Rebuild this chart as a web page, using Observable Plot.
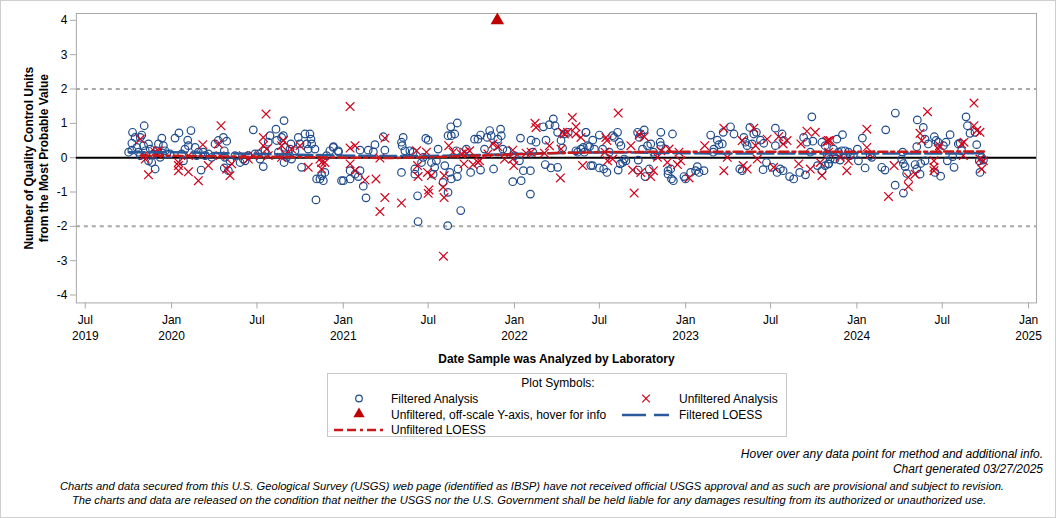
<!DOCTYPE html>
<html>
<head>
<meta charset="utf-8">
<script src="https://cdn.jsdelivr.net/npm/d3@7"></script>
<script src="https://cdn.jsdelivr.net/npm/@observablehq/plot@0.6"></script>
<style>
  html, body { margin: 0; padding: 0; background: #fff; }
  #page { position: relative; width: 1054px; height: 516px; border: 1px solid #cfcfcf; font-family: "Liberation Sans", Arial, sans-serif; color: #000; overflow: hidden; }
  #chart { position: absolute; left: 0; top: 0; }
  #legend { position: absolute; left: 326px; top: 372px; }
  .foot { position: absolute; font-style: italic; font-size: 12px; white-space: nowrap; }
</style>
</head>
<body>
<div id="page">
  <div id="chart"></div>
  <div id="legend"></div>
  <div class="foot" style="right:12px; top:446px;">Hover over any data point for method and additional info.</div>
  <div class="foot" style="right:12px; top:461px;">Chart generated 03/27/2025</div>
  <div class="foot" style="left:0; width:1062px; text-align:center; top:479px; font-size:11.2px;">Charts and data secured from this U.S. Geological Survey (USGS) web page (identified as IBSP) have not received official USGS approval and as such are provisional and subject to revision.</div>
  <div class="foot" style="left:0; width:1056px; text-align:center; top:493px; font-size:11.2px;">The charts and data are released on the condition that neither the USGS nor the U.S. Government shall be held liable for any damages resulting from its authorized or unauthorized use.</div>
</div>
<script>
// ---- Data (decimal year, units from most probable value) ----
const filteredPoints = [
[2019.749,0.16],[2019.768,0.22],[2019.772,0.74],[2019.787,0.59],[2019.768,0.42],[2019.817,0.59],[2019.826,0.66],[2019.840,0.93],
[2019.797,0.30],[2019.807,0.16],[2019.817,0.06],[2019.836,0.35],[2019.846,0.20],[2019.865,0.40],[2019.875,0.25],[2019.865,-0.09],
[2019.884,-0.14],[2019.904,-0.33],[2019.894,0.11],[2019.914,0.20],[2019.923,0.40],[2019.943,0.57],[2019.952,0.35],[2019.933,0.01],
[2019.962,0.20],[2019.972,0.11],[2019.991,0.11],[2020.020,0.57],[2020.043,0.72],[2020.059,0.11],[2020.069,-0.09],[2020.094,0.51],
[2020.098,0.35],[2020.113,0.79],[2020.078,0.25],[2020.137,0.30],[2020.146,0.06],[2020.156,0.16],[2020.172,-0.36],[2020.185,0.16],
[2020.195,0.06],[2020.214,0.11],[2020.234,0.01],[2020.253,0.40],[2020.272,0.50],[2020.302,0.59],[2020.307,0.20],[2020.321,0.48],
[2020.307,-0.30],[2020.331,-0.38],[2020.311,0.01],[2020.340,-0.09],[2020.369,0.06],[2020.399,-0.14],[2020.418,-0.04],[2020.428,-0.09],
[2020.447,0.06],[2020.476,0.81],[2020.486,0.11],[2020.505,0.11],[2020.515,-0.04],[2020.534,-0.26],[2020.544,0.20],[2020.563,0.45],
[2020.573,0.64],[2020.608,0.83],[2020.612,0.50],[2020.622,0.16],[2020.641,0.59],[2020.651,0.64],[2020.655,1.08],[2020.661,0.30],
[2020.670,0.01],[2020.655,-0.14],[2020.690,0.25],[2020.695,0.40],[2020.699,-0.04],[2020.719,0.20],[2020.738,0.59],[2020.748,0.40],
[2020.757,-0.28],[2020.777,0.69],[2020.787,0.40],[2020.796,0.25],[2020.806,0.69],[2020.812,0.54],[2020.816,0.40],[2020.835,0.25],
[2020.845,-0.62],[2020.864,-0.62],[2020.874,-0.52],[2020.884,-0.67],[2020.893,-0.43],[2020.841,-1.23],[2020.903,0.06],[2020.922,0.20],
[2020.942,0.30],[2020.971,0.20],[2020.990,-0.67],
[2020.943,0.32],[2020.972,0.17],[2021.001,-0.67],[2021.040,-0.38],[2021.040,-0.62],[2021.069,-0.48],[2021.088,-0.55],[2021.098,-0.38],
[2021.117,-0.83],[2021.133,-1.17],[2021.098,0.22],[2021.146,0.22],[2021.176,0.17],[2021.185,0.38],[2021.234,0.61],[2021.243,0.22],
[2021.350,0.59],[2021.340,0.45],[2021.344,0.35],[2021.340,-0.43],[2021.360,0.20],[2021.389,0.20],[2021.408,0.16],[2021.434,-1.11],
[2021.418,-0.33],[2021.418,-0.48],[2021.437,-1.86],[2021.457,-0.14],[2021.467,0.01],[2021.482,0.56],[2021.496,0.51],[2021.515,-0.14],
[2021.534,-0.28],[2021.525,-0.48],[2021.554,0.25],[2021.544,-0.09],[2021.583,-0.72],[2021.593,-0.23],[2021.612,0.64],[2021.612,-1.01],
[2021.610,-1.98],[2021.628,0.90],[2021.631,0.64],[2021.651,0.69],[2021.666,1.01],[2021.622,-0.43],[2021.631,-0.62],[2021.661,0.20],
[2021.670,-0.33],[2021.666,-0.55],[2021.686,-1.54],[2021.719,0.25],[2021.744,-0.43],[2021.767,0.54],[2021.787,0.54],[2021.802,0.66],
[2021.802,-0.36],[2021.825,0.25],[2021.841,0.59],[2021.855,0.79],[2021.864,0.64],[2021.878,-0.33],[2021.884,0.35],[2021.903,0.54],
[2021.919,0.83],[2021.923,0.64],[2021.932,0.25],[2021.957,0.20],[2021.990,-0.70],[2022.000,0.06],[2022.029,-0.09],[2022.035,0.57],
[2022.039,-0.67],[2022.052,-0.38],[2022.093,-0.38],[2022.093,-1.06],[2022.097,0.51],[2022.107,0.16],[2022.126,0.45],[2022.169,0.90],
[2022.180,-0.20],[2022.184,0.51],[2022.204,0.96],[2022.213,-0.30],[2022.227,1.13],[2022.237,0.93],[2022.252,-0.28],[2022.252,0.74],
[2022.272,0.50],[2022.281,0.28],[2022.291,0.69],[2022.314,0.74],[2022.359,0.20],[2022.369,0.16],[2022.388,0.25],[2022.402,0.30],
[2022.417,0.74],[2022.427,0.35],[2022.446,-0.23],
[2022.418,0.74],[2022.408,0.16],[2022.438,0.32],[2022.457,0.51],[2022.457,-0.23],[2022.467,0.25],[2022.496,0.66],[2022.496,-0.30],
[2022.521,-0.33],[2022.540,-0.43],[2022.515,0.25],[2022.554,0.16],[2022.573,0.64],[2022.583,0.59],[2022.602,0.74],[2022.606,-0.36],
[2022.612,0.45],[2022.618,-0.18],[2022.632,-0.14],[2022.622,0.35],[2022.641,-0.04],[2022.651,-0.09],[2022.719,0.74],[2022.723,-0.36],
[2022.729,0.59],[2022.723,-0.07],[2022.738,0.69],[2022.748,0.25],[2022.758,0.81],[2022.763,-0.55],[2022.777,0.35],[2022.787,-0.33],
[2022.796,0.40],[2022.812,0.16],[2022.820,0.06],[2022.855,0.74],[2022.851,0.45],[2022.855,0.35],[2022.884,0.25],[2022.897,-0.38],
[2022.897,-0.48],[2022.923,0.69],[2022.917,-0.62],[2022.928,-0.67],[2022.913,-0.33],[2022.990,-0.55],[2022.999,-0.62],[2023.029,-0.43],
[2023.058,-0.38],[2023.068,-0.26],[2023.078,-0.43],[2023.107,-0.38],[2023.146,0.66],[2023.161,0.16],[2023.165,0.25],[2023.185,0.51],
[2023.194,0.38],[2023.214,0.40],[2023.219,0.74],[2023.262,0.90],[2023.282,0.69],[2023.316,-0.33],[2023.330,-0.38],[2023.340,0.59],
[2023.349,0.45],[2023.359,0.35],[2023.375,0.88],[2023.388,0.40],[2023.398,0.69],[2023.413,0.74],[2023.437,0.51],[2023.452,-0.35],
[2023.456,0.42],[2023.472,-0.14],[2023.505,-0.28],[2023.524,0.86],[2023.524,0.35],[2023.534,-0.43],[2023.553,-0.33],[2023.563,0.69],
[2023.569,-0.38],[2023.573,0.50],[2023.607,-0.55],[2023.631,-0.62],[2023.666,-0.43],[2023.689,0.59],[2023.700,-0.50],[2023.708,0.45],
[2023.728,0.16],[2023.737,1.19],[2023.743,0.48],[2023.770,-0.23],[2023.796,0.45],[2023.815,0.35],[2023.825,0.11],[2023.834,-0.18],
[2023.796,-0.38],[2023.815,-0.23],[2023.835,-0.18],[2023.844,-0.04],[2023.864,0.25],[2023.883,0.54],[2023.873,-0.04],[2023.893,0.16],
[2023.902,-0.07],[2023.912,0.20],[2023.916,0.67],[2023.931,0.20],[2023.951,0.16],[2023.961,0.06],[2023.980,0.09],[2024.003,0.25],
[2024.009,-0.09],[2024.032,0.57],[2024.048,-0.30],[2024.077,0.06],[2024.087,0.01],[2024.145,-0.28],[2024.164,-0.36],[2024.168,0.81],
[2024.224,1.30],[2024.223,-0.80],[2024.267,0.16],[2024.261,-0.04],[2024.271,-0.17],[2024.271,-1.03],[2024.281,-0.26],[2024.290,-0.46],
[2024.339,-0.20],[2024.349,0.32],[2024.352,1.10],[2024.349,-0.33],[2024.368,-0.48],[2024.372,-0.17],[2024.387,0.88],[2024.397,0.54],
[2024.397,-0.09],[2024.416,0.40],[2024.451,0.61],[2024.461,0.50],[2024.455,-0.43],[2024.474,0.45],[2024.488,-0.54],[2024.504,0.35],
[2024.519,0.45],[2024.527,-0.09],[2024.543,0.67],[2024.566,-0.28],[2024.558,0.03],[2024.591,0.40],[2024.601,0.42],[2024.610,0.20],
[2024.636,1.19],[2024.644,0.93],[2024.659,0.71],[2024.698,0.38],[2024.713,-0.09],[2024.717,-0.43],[2024.727,0.01],[2024.737,-0.07],
[2024.688,0.74]
];
const unfilteredPoints = [
[2019.817,0.54],[2019.836,0.06],[2019.846,-0.04],[2019.865,-0.50],[2019.904,0.16],[2019.914,0.11],[2019.923,0.20],[2020.040,-0.14],
[2020.040,-0.23],[2020.040,-0.38],[2020.098,0.06],[2020.098,-0.41],[2020.156,-0.67],[2020.182,0.38],[2020.214,-0.23],[2020.272,0.40],
[2020.288,0.93],[2020.282,0.06],[2020.321,-0.33],[2020.340,-0.52],[2020.350,-0.18],[2020.418,0.06],[2020.447,-0.04],[2020.476,0.06],
[2020.534,0.59],[2020.534,0.35],[2020.550,1.27],[2020.554,0.25],[2020.563,0.06],[2020.641,0.35],[2020.651,0.50],[2020.641,0.01],
[2020.661,0.11],[2020.699,0.25],[2020.748,0.35],[2020.796,-0.28],[2020.864,-0.04],[2020.874,-0.14],[2020.893,-0.14],[2020.874,-0.33],
[2021.040,1.49],[2021.040,0.28],[2021.069,0.35],[2021.040,-0.18],[2021.069,-0.38],[2021.127,-0.65],[2021.191,-0.62],[2021.214,-1.57],
[2021.214,-0.01],[2021.243,-1.16],[2021.243,0.57],[2021.340,-1.32],[2021.428,0.20],[2021.434,-0.23],[2021.437,-0.55],[2021.486,0.16],
[2021.492,-0.43],[2021.500,-0.94],[2021.496,-1.04],[2021.515,-0.52],[2021.583,-0.86],[2021.589,-1.16],[2021.589,-0.52],[2021.585,-2.87],
[2021.616,0.35],[2021.641,0.16],[2021.690,0.11],[2021.705,-0.18],[2021.709,0.16],[2021.738,0.20],[2021.758,-0.20],[2021.787,-0.14],
[2021.796,-0.09],[2021.845,0.11],[2021.874,0.40],[2021.903,0.32],[2021.942,-0.04],[2021.990,0.22],[2021.990,-0.04],[2021.996,-0.23],
[2022.068,0.13],[2022.097,0.16],[2022.120,1.00],[2022.126,0.88],[2022.175,0.13],[2022.204,0.35],[2022.268,-0.59],[2022.272,0.25],
[2022.281,0.74],[2022.291,0.69],[2022.310,0.74],[2022.338,1.17],[2022.359,0.90],[2022.359,0.69],[2022.388,0.59],[2022.398,-0.23],
[2022.534,0.59],[2022.540,0.50],[2022.529,0.16],[2022.544,-0.09],[2022.573,-0.04],[2022.606,1.30],[2022.680,0.35],[2022.690,-0.36],
[2022.699,-1.03],[2022.729,0.67],[2022.738,-0.43],[2022.758,0.61],[2022.796,-0.55],[2022.812,-0.38],[2022.835,0.01],[2022.855,0.20],
[2022.893,-0.14],[2022.903,0.25],[2022.961,0.16],[2022.952,-0.20],[2022.971,-0.09],[2023.020,-0.59],[2023.111,0.35],[2023.223,0.86],
[2023.223,-0.38],[2023.243,0.01],[2023.330,0.50],[2023.336,-0.23],[2023.359,-0.33],[2023.398,0.86],[2023.408,0.35],[2023.418,-0.04],
[2023.476,0.54],[2023.514,-0.28],[2023.543,0.61],[2023.569,0.40],[2023.592,0.50],[2023.660,-0.18],[2023.673,0.40],[2023.728,-0.33],
[2023.708,0.77],[2023.757,0.74],[2023.786,-0.14],[2023.796,-0.52],[2023.834,0.50],
[2023.825,0.48],[2023.844,0.50],[2023.835,0.16],[2023.902,0.01],[2023.941,-0.38],[2023.951,-0.09],[2024.058,0.83],[2024.058,0.30],
[2024.077,0.09],[2024.184,-1.13],[2024.217,-0.23],[2024.300,-0.57],[2024.300,-0.84],[2024.339,-0.48],[2024.368,0.71],[2024.378,0.50],
[2024.411,1.34],[2024.449,-0.09],[2024.449,-0.28],[2024.449,-0.38],[2024.474,0.25],[2024.481,0.35],[2024.610,0.40],[2024.620,0.06],
[2024.624,0.45],[2024.682,1.59],[2024.682,0.93],[2024.698,0.79],[2024.717,0.74],[2024.717,-0.04],[2024.727,-0.33],[2024.737,-0.09]
];
const offscalePoints = [[2021.900, 4.0]];
const filteredLoess = [
[2019.75,0.16],[2020.0,0.16],[2020.3,0.13],[2020.6,0.10],[2020.9,0.07],[2021.2,0.05],[2021.5,0.05],[2021.8,0.08],[2022.1,0.12],
[2022.4,0.15],[2022.7,0.15],[2023.0,0.13],[2023.3,0.12],[2023.6,0.12],[2023.9,0.12],[2024.2,0.12],[2024.5,0.12],[2024.74,0.13]
];
const unfilteredLoess = [
[2019.82,0.06],[2020.1,0.05],[2020.4,0.03],[2020.7,0.02],[2021.0,0.0],[2021.3,-0.01],[2021.6,0.03],[2021.9,0.08],[2022.2,0.13],
[2022.5,0.16],[2022.8,0.17],[2023.1,0.17],[2023.4,0.17],[2023.7,0.17],[2024.0,0.17],[2024.3,0.17],[2024.6,0.18],[2024.74,0.18]
];
const xTickDates = ["2019-07-01","2020-01-01","2020-07-01","2021-01-01","2021-07-01","2022-01-01","2022-07-01","2023-01-01","2023-07-01","2024-01-01","2024-07-01","2025-01-01"];
const xTickLabels = ["Jul\n2019","Jan\n2020","Jul","Jan\n2021","Jul","Jan\n2022","Jul","Jan\n2023","Jul","Jan\n2024","Jul","Jan\n2025"];
const yTicks = [-4,-3,-2,-1,0,1,2,3,4];
const limitLines = [-2, 2];
const xDomain = ["2019-06-12","2025-01-18"];
const yDomain = [-4.23, 4.2];

// ---- helpers ----
function yearToDate(y) {
  const yr = Math.floor(y);
  const a = Date.UTC(yr, 0, 1), b = Date.UTC(yr + 1, 0, 1);
  return new Date(a + (y - yr) * (b - a));
}
const toRows = arr => arr.map(([t, v]) => ({date: yearToDate(t), value: v}));
const filtered = toRows(filteredPoints);
const unfiltered = toRows(unfilteredPoints);
const offscale = toRows(offscalePoints);
const fLoess = toRows(filteredLoess);
const uLoess = toRows(unfilteredLoess);
const tickDates = xTickDates.map(d => new Date(d + "T00:00:00Z"));
const labelOf = new Map(tickDates.map((d, i) => [+d, xTickLabels[i]]));

const BLUE = "#1f4b8c";
const RED = "#d0021b";

const plot = Plot.plot({
  width: 1056,
  height: 366,
  marginLeft: 75,
  marginRight: 19,
  marginTop: 12,
  marginBottom: 64,
  style: {fontFamily: "'Liberation Sans', Arial, sans-serif", fontSize: "12px", color: "#000", background: "#fff"},
  x: {type: "utc", domain: xDomain.map(d => new Date(d + "T00:00:00Z")), label: null},
  y: {domain: yDomain, label: null},
  marks: [
    Plot.frame({stroke: "#a8a8a8"}),
    Plot.axisX({ticks: tickDates, tickFormat: d => labelOf.get(+d), tickSize: 6, tickPadding: 4, stroke: "#a8a8a8", fontSize: 12, lineHeight: 1.3, label: null}),
    Plot.axisY({ticks: yTicks, tickFormat: d => String(d), tickSize: 6, tickPadding: 3, stroke: "#a8a8a8", fontSize: 12, label: null}),
    Plot.ruleY(limitLines, {stroke: "#a8a8a8", strokeWidth: 2, strokeDasharray: "4,4"}),
    Plot.ruleY([0], {stroke: "#000", strokeWidth: 2}),
    Plot.dot(filtered, {x: "date", y: "value", r: 3.8, stroke: BLUE, fill: "none", strokeWidth: 1.2}),
    Plot.dot(unfiltered, {x: "date", y: "value", r: 4, symbol: "times", stroke: RED, strokeWidth: 1.2}),
    Plot.dot(offscale, {x: "date", y: "value", r: 5, symbol: "triangle", fill: "#c00000", stroke: "none"}),
    Plot.line(fLoess, {x: "date", y: "value", stroke: "#2a5a9c", strokeWidth: 2.5, strokeDasharray: "16,5"}),
    Plot.line(uLoess, {x: "date", y: "value", stroke: "#c81818", strokeWidth: 2.5, strokeDasharray: "9,4,9,4,3,4"}),
    Plot.text(["Date Sample was Analyzed by Laboratory"], {frameAnchor: "bottom", dy: 60, fontWeight: "bold", fontSize: 12}),
    Plot.text(["Number of Quality Control Units\nfrom the Most Probable Value"], {frameAnchor: "left", dx: -41, rotate: -90, textAnchor: "middle", fontWeight: "bold", fontSize: 12, lineHeight: 1.3})
  ]
});
document.getElementById("chart").appendChild(plot);

// ---- legend ----
const lg = d3.select("#legend").append("svg").attr("width", 461).attr("height", 65)
  .style("font-family", "'Liberation Sans', Arial, sans-serif").style("font-size", "12px");
lg.append("rect").attr("x", 0.5).attr("y", 0.5).attr("width", 459).attr("height", 63).attr("fill", "#fff").attr("stroke", "#c8c8c8");
lg.append("text").attr("x", 231).attr("y", 14).attr("text-anchor", "middle").text("Plot Symbols:");
const rowY = [26, 42, 57];
// Filtered analysis
lg.append("circle").attr("cx", 32).attr("cy", rowY[0] - 0.5).attr("r", 3.3).attr("fill", "none").attr("stroke", BLUE).attr("stroke-width", 1.2);
lg.append("text").attr("x", 64).attr("y", rowY[0] + 4).text("Filtered Analysis");
// Unfiltered analysis
lg.append("path").attr("d", d3.symbol(d3.symbolTimes, 40)()).attr("transform", `translate(319,${rowY[0] - 0.5})`).attr("stroke", RED).attr("stroke-width", 1.2);
lg.append("text").attr("x", 352).attr("y", rowY[0] + 4).text("Unfiltered Analysis");
// off-scale
lg.append("path").attr("d", d3.symbol(d3.symbolTriangle, 55)()).attr("transform", `translate(32,${rowY[1] - 1})`).attr("fill", "#c00000");
lg.append("text").attr("x", 64).attr("y", rowY[1] + 4).text("Unfiltered, off-scale Y-axis, hover for info");
// Filtered LOESS
lg.append("line").attr("x1", 295).attr("x2", 342).attr("y1", rowY[1]).attr("y2", rowY[1]).attr("stroke", "#2a5a9c").attr("stroke-width", 2.5).attr("stroke-dasharray", "24,8");
lg.append("text").attr("x", 352).attr("y", rowY[1] + 4).text("Filtered LOESS");
// Unfiltered LOESS
lg.append("line").attr("x1", 7).attr("x2", 56).attr("y1", rowY[2]).attr("y2", rowY[2]).attr("stroke", "#c81818").attr("stroke-width", 2.5).attr("stroke-dasharray", "9,4,9,4,3,4");
lg.append("text").attr("x", 64).attr("y", rowY[2] + 4).text("Unfiltered LOESS");
</script>
</body>
</html>
